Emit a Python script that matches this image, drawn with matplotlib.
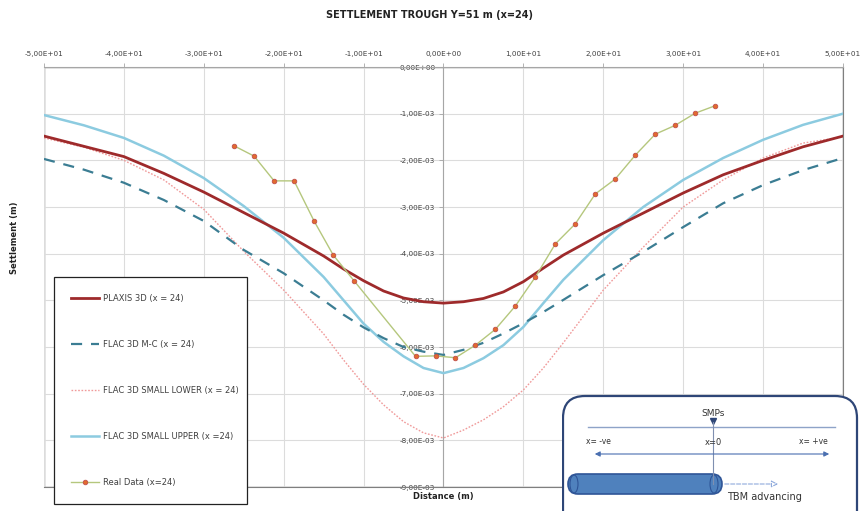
import matplotlib
matplotlib.use("Agg")
import matplotlib.pyplot as plt
from matplotlib.ticker import FuncFormatter, MultipleLocator
from matplotlib.patches import Rectangle, FancyBboxPatch, Ellipse
import numpy as np

# distance (m) and settlement (mm, converted to m when plotting)
dist = [-50, -45, -40, -35, -30, -25, -20, -15, -12.5, -10, -7.5, -5, -2.5, 0,
        2.5, 5, 7.5, 10, 12.5, 15, 20, 25, 30, 35, 40, 45, 50]
plaxis = [-1.48, -1.70, -1.92, -2.28, -2.68, -3.12, -3.56, -4.05, -4.33, -4.58, -4.80, -4.95, -5.03, -5.06,
          -5.03, -4.96, -4.82, -4.60, -4.31, -4.03, -3.56, -3.13, -2.70, -2.31, -2.00, -1.71, -1.48]
flac_mc = [-1.97, -2.20, -2.48, -2.85, -3.30, -3.92, -4.42, -5.00, -5.31, -5.58, -5.81, -6.00, -6.10, -6.17,
           -6.06, -5.91, -5.71, -5.49, -5.25, -4.99, -4.46, -3.96, -3.43, -2.92, -2.53, -2.21, -1.95]
flac_lower = [-1.52, -1.72, -2.00, -2.42, -3.05, -3.95, -4.78, -5.72, -6.28, -6.80, -7.24, -7.60, -7.84, -7.95,
              -7.78, -7.56, -7.28, -6.92, -6.45, -5.91, -4.78, -3.86, -3.00, -2.42, -1.95, -1.63, -1.50]
flac_upper = [-1.03, -1.25, -1.52, -1.90, -2.38, -2.98, -3.66, -4.50, -5.00, -5.50, -5.89, -6.20, -6.45, -6.56,
              -6.45, -6.24, -5.96, -5.57, -5.06, -4.56, -3.71, -3.00, -2.42, -1.95, -1.56, -1.24, -1.00]

real_x = [-26.2, -23.7, -21.2, -18.7, -16.2, -13.8, -11.2, -3.5, -1.0, 1.5, 4.0, 6.5,
          9.0, 11.5, 14.0, 16.5, 19.0, 21.5, 24.0, 26.5, 29.0, 31.5, 34.0]
real_y = [-1.69, -1.91, -2.44, -2.44, -3.30, -4.03, -4.58, -6.20, -6.19, -6.23, -5.96, -5.62,
          -5.12, -4.50, -3.79, -3.36, -2.72, -2.40, -1.89, -1.44, -1.25, -0.99, -0.83]

labels = ["PLAXIS 3D (x = 24)", "FLAC 3D M-C (x = 24)", "FLAC 3D SMALL LOWER (x = 24)",
          "FLAC 3D SMALL UPPER (x =24)", "Real Data (x=24)"]

W, H = 860, 511
fig = plt.figure(figsize=(W / 100, H / 100), dpi=100)
ax = fig.add_axes([44 / W, 1 - 487 / H, (843 - 44) / W, (487 - 67) / H])

mm = lambda v: np.array(v) * 1e-3

l1, = ax.plot(dist, mm(plaxis), color="#9e2a2b", lw=2.0, zorder=5, solid_joinstyle="round")
l2, = ax.plot(dist, mm(flac_mc), color="#3b7d93", lw=1.6, ls=(0, (5, 4)), zorder=4)
l3, = ax.plot(dist, mm(flac_lower), color="#f09a9a", lw=1.0, ls=(0, (1.2, 1.2)), zorder=3)
l4, = ax.plot(dist, mm(flac_upper), color="#8ccbe0", lw=1.8, zorder=3, solid_joinstyle="round")
l5, = ax.plot(real_x, mm(real_y), color="#b5c77d", lw=1.0, marker="o", ms=3.3,
              mfc="#e26b2e", mec="#c0504d", mew=0.6, zorder=6)

ax.set_xlim(-50, 50)
ax.set_ylim(-9e-3, 0)
ax.xaxis.set_major_locator(MultipleLocator(10))
ax.yaxis.set_major_locator(MultipleLocator(1e-3))


def sci_comma(v, p):
    v = round(v, 9)
    if v == 0:
        v = 0.0
    return f"{v:.2E}".replace(".", ",")


fmt = FuncFormatter(sci_comma)
ax.xaxis.set_major_formatter(fmt)
ax.yaxis.set_major_formatter(fmt)
ax.grid(color="#dcdcdc", lw=0.8, zorder=0)

ax.xaxis.tick_top()
ax.spines["left"].set_position(("data", 0))
for s in ["left", "top"]:
    ax.spines[s].set_color("#a6a6a6")
for s in ["bottom", "right"]:
    ax.spines[s].set_color("#7f7f7f")
ax.add_patch(Rectangle((0, 0), 1, 1, transform=ax.transAxes, fill=False,
                       ec="#7f7f7f", lw=1.0, zorder=1))
ax.tick_params(axis="both", labelsize=5.2, colors="#404040", length=3, width=0.6,
               color="#a6a6a6")
ax.tick_params(axis="x", pad=4)
ax.tick_params(axis="y", pad=3)

fig.text(0.5, 1 - 15 / H, "SETTLEMENT TROUGH Y=51 m (x=24)", ha="center", va="center",
         fontsize=7, fontweight="bold", color="#222222")
fig.text(443 / W, 1 - 496 / H, "Distance (m)", ha="center", va="center",
         fontsize=6, fontweight="bold", color="#222222")
fig.text(15 / W, 1 - 238 / H, "Settlement (m)", ha="center", va="center", rotation=90,
         fontsize=6, fontweight="bold", color="#222222")

leg = fig.legend([l1, l2, l3, l4, l5], labels, loc="upper left",
                 bbox_to_anchor=(50 / W, 1 - 507 / H, 201 / W, 234 / H), mode="expand",
                 fontsize=6, labelspacing=4.45, borderpad=2.0, handlelength=3.4,
                 handletextpad=0.5, fancybox=False, framealpha=1, edgecolor="#222222",
                 labelcolor="#404040")
leg.get_frame().set_linewidth(0.9)

# inset schematic (pixel coordinates of the figure)
ins = fig.add_axes([562 / W, 0, (860 - 562) / W, (511 - 392) / H])
ins.set_xlim(562, 860)
ins.set_ylim(511, 392)
ins.axis("off")
ins.add_patch(FancyBboxPatch((563, 396), 294, 140, boxstyle="round,pad=0,rounding_size=22",
                             fc="white", ec="#2e4677", lw=1.6))
ins.text(713, 413, "SMPs", ha="center", va="center", fontsize=6.5, color="#333333")
ins.plot([713], [421], marker="v", ms=4, color="#2e4677")
ins.plot([588, 835], [427, 427], color="#8ea3c8", lw=1)
ins.plot([713, 713], [422, 484], color="#7f8fb0", lw=0.8)
ins.text(598, 441, "x= -ve", ha="center", va="center", fontsize=5.5, color="#333333")
ins.text(713, 442, "x=0", ha="center", va="center", fontsize=6, color="#333333")
ins.text(813, 441, "x= +ve", ha="center", va="center", fontsize=5.5, color="#333333")
ins.annotate("", xy=(592, 454), xytext=(832, 454),
             arrowprops=dict(arrowstyle="<|-|>,head_length=0.3,head_width=0.15",
                             color="#4a6fb0", lw=0.8))
ins.add_patch(FancyBboxPatch((568, 474), 154, 20, boxstyle="round,pad=0,rounding_size=10",
                             fc="#4f81bd", ec="#2f5597", lw=1.2))
ins.add_patch(Ellipse((574, 484), 8, 18, fc="none", ec="#2f5597", lw=0.8))
ins.add_patch(Ellipse((714, 484), 8, 18, fc="none", ec="#2f5597", lw=0.8))
ins.annotate("", xy=(781, 484), xytext=(722, 484),
             arrowprops=dict(arrowstyle="-|>,head_length=0.4,head_width=0.2",
                             color="#8faadc", lw=0.8, ls="--", fc="white"))
ins.text(727, 497, "TBM advancing", ha="left", va="center", fontsize=7, color="#333333")

fig.savefig("out.png", dpi=100)
